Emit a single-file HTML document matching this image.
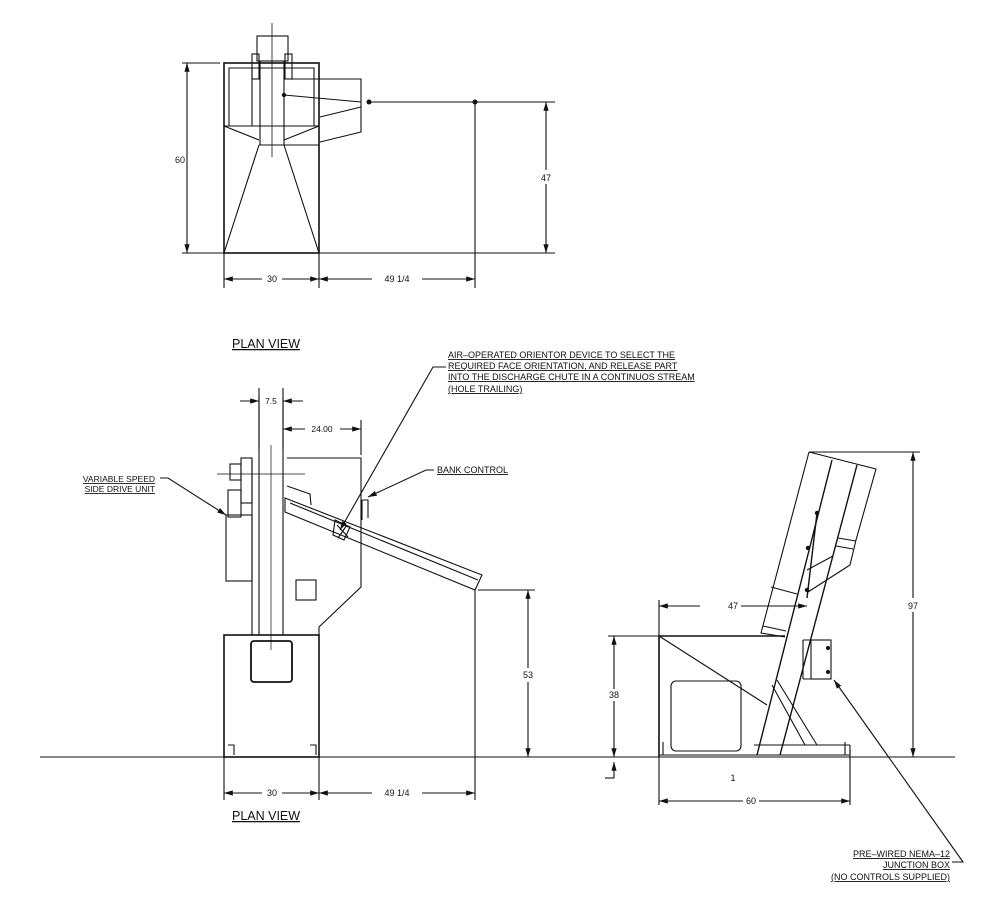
<!DOCTYPE html>
<html><head><style>
body{margin:0;background:#fff}
svg{display:block}
text{font-family:"Liberation Sans",sans-serif;font-size:9px;fill:#111}
.u{text-decoration:underline}
</style></head><body>
<svg width="1000" height="920" viewBox="0 0 1000 920" xmlns="http://www.w3.org/2000/svg">
<defs>
<marker id="a" viewBox="0 0 10 6" refX="10" refY="3" markerWidth="8" markerHeight="5" orient="auto-start-reverse"><path d="M0,0 L10,3 L0,6 z" fill="#111"/></marker>
</defs>
<g stroke="#111" fill="none" stroke-width="1.1">
<!-- TOP VIEW -->
<rect x="224" y="63" width="95" height="190" stroke-width="1.6"/>
<path d="M229,126 V68 H314 V126 M252,68 V126 M224,126 H319"/>
<path d="M260,61 V145 M284,61 V145 M259,145 H319 M224,126 L259,140 M319,126 L284,140"/>
<path d="M259,145 L224,253 M284,145 L319,253"/>
<rect x="257" y="36" width="31" height="25"/>
<path d="M272,23 V157" stroke-width="0.8"/>
<rect x="252" y="54" width="7" height="25"/><rect x="285" y="54" width="7" height="25"/>
<path d="M285,79 H361 V132 L320,142 M320,117 L361,107"/>
<path d="M284,95 L361,102 M369,102 H555 M475,102 V288"/>
<path d="M182,63 H220 M182,253 H555 M224,253 V288 M319,253 V288"/>
<path d="M187,63 V253" marker-start="url(#a)" marker-end="url(#a)"/>
<path d="M546,102 V253" marker-start="url(#a)" marker-end="url(#a)"/>
<path d="M262,279 H224" marker-end="url(#a)"/><path d="M282,279 H319" marker-end="url(#a)"/>
<path d="M372,279 H319" marker-end="url(#a)"/><path d="M422,279 H475" marker-end="url(#a)"/>
</g>
<g fill="#111"><circle cx="284" cy="95" r="2.2"/><circle cx="369" cy="102" r="2.5"/><circle cx="475" cy="102" r="2.5"/></g>
<rect x="540" y="170" width="12" height="14" fill="#fff"/>
<text x="180" y="163" text-anchor="middle">60</text>
<text x="546" y="181" text-anchor="middle">47</text>
<text x="272" y="282" text-anchor="middle">30</text>
<text x="397" y="282" text-anchor="middle">49 1/4</text>
<text x="232" y="348" class="u" style="font-size:12.5px">PLAN VIEW</text>

<!-- FRONT VIEW -->
<g stroke="#111" fill="none" stroke-width="1.1">
<path d="M40,757 H955" stroke-width="1"/>
<rect x="224" y="635" width="95" height="122" stroke-width="1.6"/>
<path d="M259,397 V635 M283,397 V635 M252,460 V635" />
<path d="M287,458 H361 V587 L319,627 V635"/>
<path d="M271,445 V650 M217,474 H305" stroke-width="0.7"/>
<rect x="241" y="458" width="11" height="45"/>
<rect x="230" y="464" width="11" height="16"/>
<rect x="228" y="490" width="13" height="27"/>
<rect x="226" y="515" width="26" height="66"/>
<rect x="296" y="580" width="20" height="20"/>
<rect x="251" y="641" width="41" height="41" rx="3" stroke-width="1.8"/>
<path d="M285,498 L482,575 L475,590 L285,512 Z M290,503 L478,580" />
<path d="M287,486 L310,494 L311,505"/>
<path d="M335,520 L350,527 L344,540 L333,535 Z M337,525 L348,537 M347,525 L338,538"/>
<path d="M362,500 H368 V518 M362,500 V520"/>
<path d="M228,745 h6 v10 M310,745 h6 v10"/>
<path d="M475,590 V800 M478,590 H535 M224,757 V800 M319,757 V800"/>
<path d="M528,590 V757" marker-start="url(#a)" marker-end="url(#a)"/>
<path d="M259,388 V450 M283,388 V450 M361,420 V455"/>
<path d="M240,401 H259" marker-end="url(#a)"/><path d="M303,401 H283" marker-end="url(#a)"/>
<path d="M305,429 H283" marker-end="url(#a)"/><path d="M340,429 H361" marker-end="url(#a)"/>
<path d="M262,793 H224" marker-end="url(#a)"/><path d="M282,793 H319" marker-end="url(#a)"/>
<path d="M372,793 H319" marker-end="url(#a)"/><path d="M422,793 H475" marker-end="url(#a)"/>
<path d="M160,478 H168 L226,515" marker-end="url(#a)"/>
<path d="M446,367 H433 L340,530" marker-end="url(#a)"/>
<path d="M434,470 H426 L368,497" marker-end="url(#a)"/>
</g>
<rect x="520" y="668" width="16" height="14" fill="#fff"/>
<text x="528" y="678" text-anchor="middle">53</text>
<text x="271" y="404" text-anchor="middle" style="font-size:8.5px">7.5</text>
<text x="322" y="432" text-anchor="middle" style="font-size:8.5px">24.00</text>
<text x="272" y="796" text-anchor="middle">30</text>
<text x="397" y="796" text-anchor="middle">49 1/4</text>
<text x="232" y="820" class="u" style="font-size:12.5px">PLAN VIEW</text>
<text x="155" y="482" text-anchor="end" class="u" style="font-size:8.5px">VARIABLE SPEED</text>
<text x="155" y="492" text-anchor="end" class="u" style="font-size:8.5px">SIDE DRIVE UNIT</text>
<g style="font-size:8.5px">
<text x="448" y="358" class="u">AIR–OPERATED ORIENTOR DEVICE TO SELECT THE</text>
<text x="448" y="369" class="u">REQUIRED FACE ORIENTATION, AND RELEASE PART</text>
<text x="448" y="380" class="u">INTO  THE DISCHARGE CHUTE  IN A CONTINUOS STREAM</text>
<text x="448" y="392" class="u">(HOLE TRAILING)</text>
<text x="437" y="473" class="u">BANK CONTROL</text>
</g>

<!-- SIDE VIEW -->
<g stroke="#111" fill="none" stroke-width="1.1">
<path d="M659,757 V636 H785" stroke-width="1.6"/>
<path d="M659,755 H850 V745"/>
<path d="M757,755 L832,460 M780,755 L857,465" stroke-width="1.4"/>
<path d="M809,452 L876,469 L856,540 L850,565 L808,592 M809,452 L761,633 L785,637 M763,626 L786,631"/>
<path d="M838,538 L856,541 M836,546 L853,549 M771,587 L797,594"/>
<path d="M807,570 L833,556"/>
<path d="M817,513 L807,598" stroke-width="1.4"/>
<rect x="811" y="640" width="20" height="39"/>
<path d="M803,640 H811 M803,679 H811 M803,640 V679"/>
<rect x="671" y="681" width="70" height="70" rx="5"/>
<path d="M659,636 L767,705"/>
<path d="M772,685 L805,745 M777,680 L817,745 M754,745 H850"/>
<path d="M663,742 v13 M845,742 v13"/>
<path d="M659,600 V640 M608,636 H659 M809,452 H920 M850,750 V805 M659,757 V805"/>
<path d="M700,606 H659" marker-end="url(#a)"/><path d="M740,606 H807" marker-end="url(#a)"/>
<path d="M614,636 V757" marker-start="url(#a)" marker-end="url(#a)"/>
<path d="M913,452 V757" marker-start="url(#a)" marker-end="url(#a)"/>
<path d="M659,801 H850" marker-start="url(#a)" marker-end="url(#a)"/>
<path d="M614,778 V762" marker-end="url(#a)"/><path d="M605,778 H614"/>
<path d="M952,862 H963 L834,680" marker-end="url(#a)"/>
</g>
<g fill="#111"><circle cx="817" cy="513" r="2.2"/><circle cx="808" cy="548" r="2.2"/><circle cx="807" cy="590" r="2.2"/><circle cx="828" cy="648" r="2"/><circle cx="828" cy="672" r="2"/></g>
<rect x="725" y="600" width="16" height="12" fill="#fff"/>
<text x="733" y="609" text-anchor="middle">47</text>
<rect x="607" y="689" width="14" height="12" fill="#fff"/>
<text x="614" y="698" text-anchor="middle">38</text>
<rect x="905" y="598" width="16" height="14" fill="#fff"/>
<text x="913" y="609" text-anchor="middle">97</text>
<text x="733" y="781" text-anchor="middle">1</text>
<rect x="743" y="795" width="16" height="12" fill="#fff"/>
<text x="751" y="804" text-anchor="middle">60</text>
<g style="font-size:8.5px">
<text x="950" y="857" text-anchor="end" class="u">PRE–WIRED NEMA–12</text>
<text x="950" y="868" text-anchor="end" class="u">JUNCTION BOX</text>
<text x="950" y="880" text-anchor="end" class="u">(NO CONTROLS SUPPLIED)</text>
</g>
</svg>
</body></html>
